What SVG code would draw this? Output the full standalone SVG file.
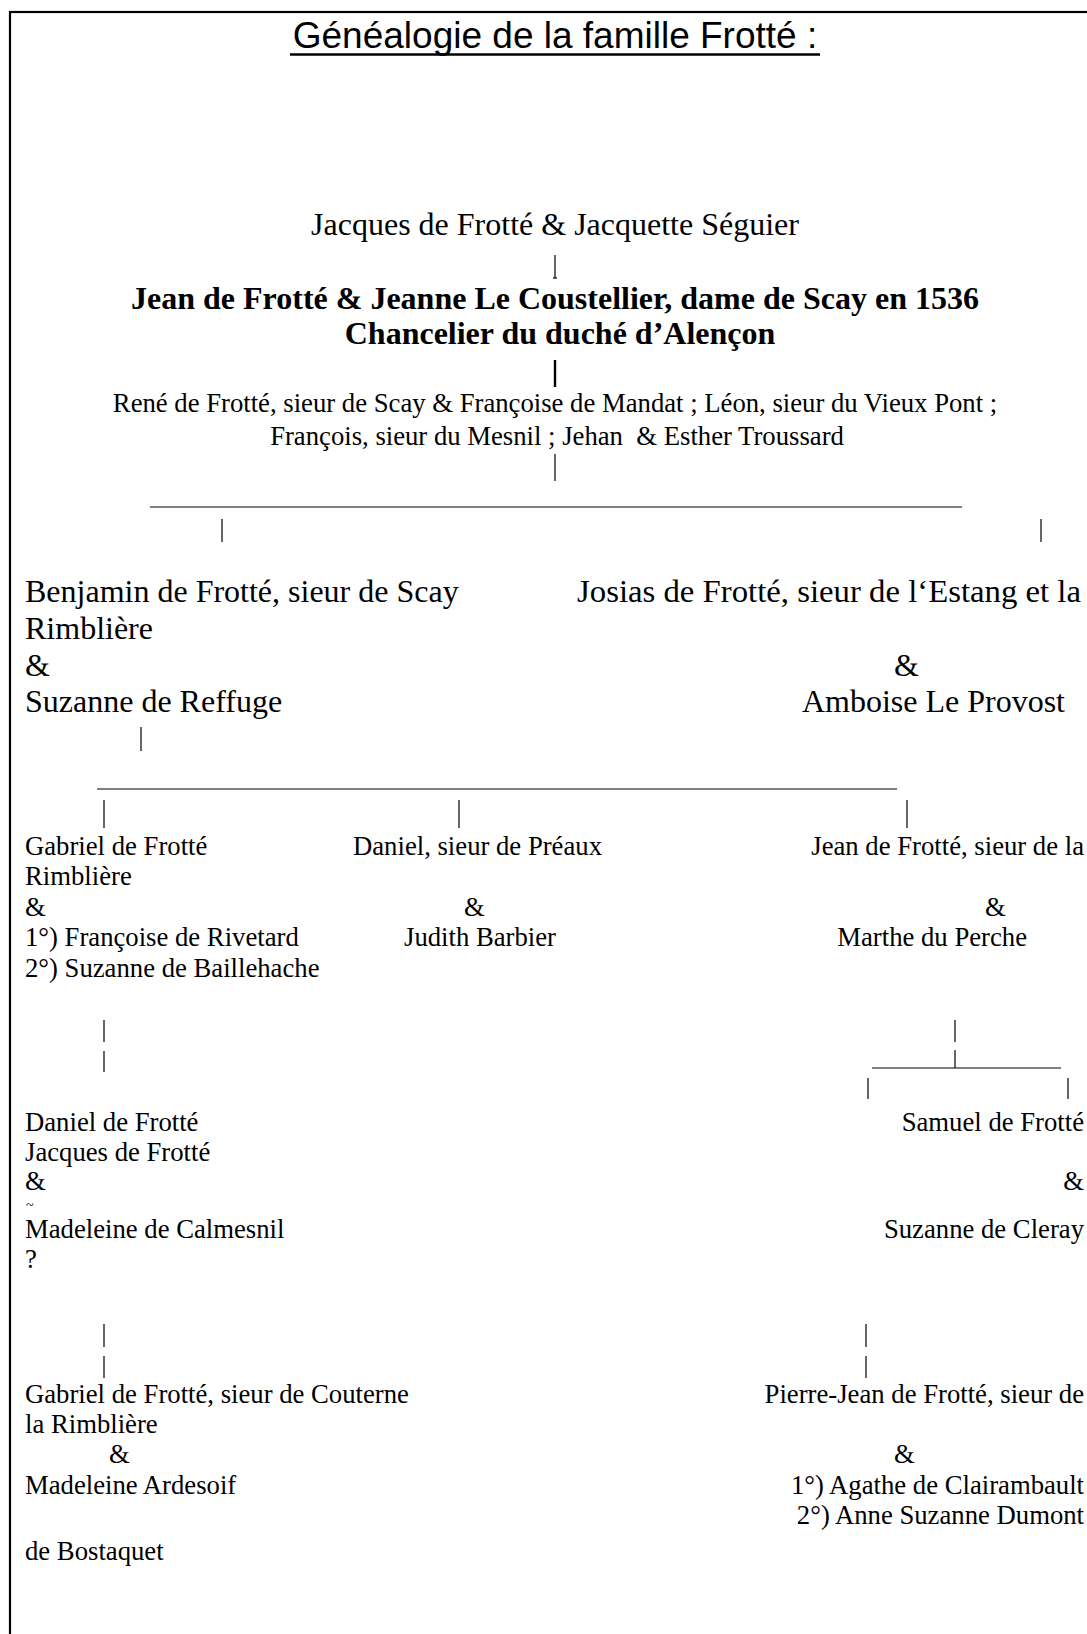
<svg xmlns="http://www.w3.org/2000/svg" width="1087" height="1634" viewBox="0 0 1087 1634">
<style>
text{fill:#000;white-space:pre}
.t{font-family:"Liberation Serif","Times New Roman",serif;font-size:26.7px}
.m{font-family:"Liberation Serif","Times New Roman",serif;font-size:32px}
.b{font-family:"Liberation Serif","Times New Roman",serif;font-size:32px;font-weight:bold}
.s{font-family:"Liberation Serif","Times New Roman",serif;font-size:14px}
.c{text-anchor:middle}
.e{text-anchor:end}
.title{font-family:"Liberation Sans",Arial,sans-serif;font-size:37px;text-anchor:middle}
.ln{stroke:#000;stroke-width:1.2;fill:none}
.bl{stroke:#000;stroke-width:2.4;fill:none}
</style>
<rect x="10" y="12" width="1100" height="1700" fill="none" stroke="#000" stroke-width="2.2"/>
<g id="title">
<text class="title" x="555" y="48">Généalogie de la famille Frotté :</text>
<line x1="290" y1="54.5" x2="820" y2="54.5" stroke="#000" stroke-width="2.4"/>
</g>
<g id="connectors">
<line class="ln" x1="555" y1="255" x2="555" y2="278"/>
<line class="ln" x1="553" y1="278" x2="557" y2="278"/>
<line class="bl" x1="555" y1="360" x2="555" y2="387"/>
<line class="ln" x1="555" y1="454" x2="555" y2="481"/>
<line class="ln" x1="150" y1="507" x2="962" y2="507"/>
<line class="ln" x1="222" y1="519" x2="222" y2="542"/>
<line class="ln" x1="1041" y1="519" x2="1041" y2="542"/>
<line class="ln" x1="141" y1="727" x2="141" y2="751"/>
<line class="ln" x1="97" y1="789" x2="897" y2="789"/>
<line class="ln" x1="104" y1="800" x2="104" y2="828"/>
<line class="ln" x1="459" y1="800" x2="459" y2="828"/>
<line class="ln" x1="907" y1="800" x2="907" y2="828"/>
<line class="ln" x1="104" y1="1020" x2="104" y2="1042"/>
<line class="ln" x1="104" y1="1051" x2="104" y2="1072"/>
<line class="ln" x1="955" y1="1020" x2="955" y2="1042"/>
<line class="ln" x1="955" y1="1050" x2="955" y2="1068"/>
<line class="ln" x1="872" y1="1068" x2="1061" y2="1068"/>
<line class="ln" x1="868" y1="1078" x2="868" y2="1099"/>
<line class="ln" x1="1068" y1="1078" x2="1068" y2="1099"/>
<line class="ln" x1="104" y1="1324" x2="104" y2="1347"/>
<line class="ln" x1="104" y1="1356" x2="104" y2="1378"/>
<line class="ln" x1="866" y1="1324" x2="866" y2="1347"/>
<line class="ln" x1="866" y1="1356" x2="866" y2="1378"/>
</g>
<g id="n-jacques">
<text class="m c" x="555" y="235">Jacques de Frotté &amp; Jacquette Séguier</text>
</g>
<g id="n-jean">
<text class="b c" x="555" y="309">Jean de Frotté &amp; Jeanne Le Coustellier, dame de Scay en 1536</text>
<text class="b c" x="560" y="344">Chancelier du duché d’Alençon</text>
</g>
<g id="n-rene">
<text class="t c" x="555" y="412">René de Frotté, sieur de Scay &amp; Françoise de Mandat ; Léon, sieur du Vieux Pont ;</text>
<text class="t c" x="557" y="445">François, sieur du Mesnil ; Jehan  &amp; Esther Troussard</text>
</g>
<g id="n-benjamin">
<text class="m" x="25" y="602">Benjamin de Frotté, sieur de Scay</text>
<text class="m" x="25" y="639">Rimblière</text>
<text class="m" x="25" y="676">&amp;</text>
<text class="m" x="25" y="712">Suzanne de Reffuge</text>
</g>
<g id="n-josias">
<text class="m" x="577" y="602" textLength="504" lengthAdjust="spacingAndGlyphs">Josias de Frotté, sieur de l‘Estang et la</text>
<text class="m" x="894" y="676">&amp;</text>
<text class="m e" x="1065" y="712">Amboise Le Provost</text>
</g>
<g id="n-gabriel">
<text class="t" x="25" y="855">Gabriel de Frotté</text>
<text class="t" x="25" y="885">Rimblière</text>
<text class="t" x="25" y="916">&amp;</text>
<text class="t" x="25" y="946">1°) Françoise de Rivetard</text>
<text class="t" x="25" y="977">2°) Suzanne de Baillehache</text>
</g>
<g id="n-daniel-preaux">
<text class="t" x="353" y="855">Daniel, sieur de Préaux</text>
<text class="t" x="464" y="916">&amp;</text>
<text class="t" x="404" y="946">Judith Barbier</text>
</g>
<g id="n-jean-perche">
<text class="t e" x="1084" y="855">Jean de Frotté, sieur de la</text>
<text class="t" x="985" y="916">&amp;</text>
<text class="t e" x="1027" y="946">Marthe du Perche</text>
</g>
<g id="n-daniel-jacques">
<text class="t" x="25" y="1131">Daniel de Frotté</text>
<text class="t" x="25" y="1161">Jacques de Frotté</text>
<text class="t" x="25" y="1190">&amp;</text>
<text class="s" x="26" y="1210">~</text>
<text class="t" x="25" y="1238">Madeleine de Calmesnil</text>
<text class="t" x="25" y="1268">?</text>
</g>
<g id="n-samuel">
<text class="t e" x="1084" y="1131">Samuel de Frotté</text>
<text class="t e" x="1084" y="1190">&amp;</text>
<text class="t e" x="1084" y="1238">Suzanne de Cleray</text>
</g>
<g id="n-gabriel-couterne">
<text class="t" x="25" y="1403">Gabriel de Frotté, sieur de Couterne</text>
<text class="t" x="25" y="1433">la Rimblière</text>
<text class="t" x="109" y="1463">&amp;</text>
<text class="t" x="25" y="1494">Madeleine Ardesoif</text>
<text class="t" x="25" y="1560">de Bostaquet</text>
</g>
<g id="n-pierre-jean">
<text class="t e" x="1084" y="1403">Pierre-Jean de Frotté, sieur de</text>
<text class="t" x="894" y="1463">&amp;</text>
<text class="t e" x="1084" y="1494">1°) Agathe de Clairambault</text>
<text class="t e" x="1084" y="1524">2°) Anne Suzanne Dumont</text>
</g>
</svg>
